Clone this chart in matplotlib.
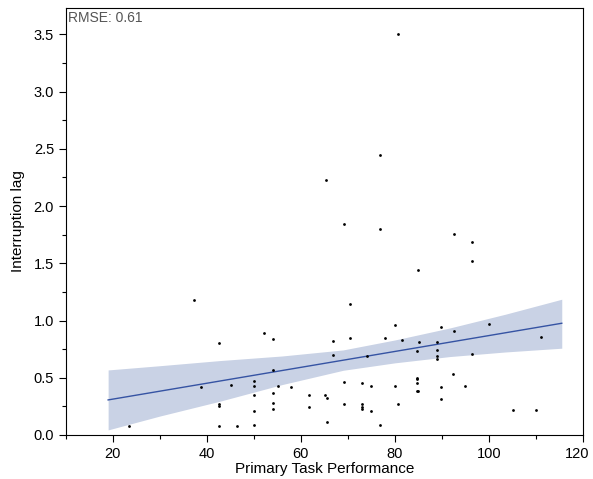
import numpy as np
import matplotlib
matplotlib.use('Agg')
import matplotlib.pyplot as plt
import matplotlib.transforms as mtransforms
from matplotlib.ticker import MultipleLocator, FormatStrFormatter

plt.rcParams['font.family'] = ['Liberation Sans', 'DejaVu Sans']

# Primary task performance (x) and interruption lag (y)
performance = [23.4, 37.2, 38.7, 42.6, 42.6, 42.6, 42.6, 45.1, 46.4,
               50.0, 50.0, 50.0, 50.0, 50.0,
               52.1, 54.0, 54.0, 54.0, 54.0, 54.0, 55.2, 57.9,
               61.7, 61.7, 65.1, 65.6, 65.6, 65.3, 66.9, 66.9, 69.1, 69.1, 69.1,
               70.4, 70.4, 73.0, 73.0, 73.0, 73.0, 74.1, 74.9, 74.9, 76.8, 76.8,
               76.8, 77.8, 80.0, 80.0, 80.7, 80.7, 81.5,
               84.6, 84.6, 84.6, 84.6, 84.6, 85.0, 85.0, 85.2, 88.9, 88.9, 88.9,
               88.9, 89.9, 89.9, 89.9,
               92.3, 92.6, 92.6, 95.0, 96.3, 96.3, 96.4, 100.0, 105.1, 110.0, 111.1]
lag = [0.08, 1.18, 0.42, 0.80, 0.27, 0.25, 0.08, 0.44, 0.08,
       0.475, 0.43, 0.35, 0.21, 0.085,
       0.89, 0.84, 0.57, 0.37, 0.28, 0.23, 0.43, 0.42,
       0.35, 0.24, 0.35, 0.32, 0.11, 2.23, 0.82, 0.70, 1.84, 0.46, 0.27,
       1.14, 0.85, 0.45, 0.27, 0.245, 0.225, 0.69, 0.43, 0.21, 2.45, 1.80,
       0.085, 0.85, 0.96, 0.43, 3.50, 0.27, 0.83,
       0.73, 0.50, 0.49, 0.45, 0.385, 0.38, 1.44, 0.81, 0.81, 0.74, 0.69,
       0.66, 0.94, 0.42, 0.31,
       0.53, 1.76, 0.91, 0.43, 1.69, 1.52, 0.71, 0.97, 0.215, 0.215, 0.86]

# fitted line and its confidence band
fit_x = [19.0, 115.5]
fit_y = [0.306, 0.976]
band_x = [19.0, 30.0, 42.8, 56.0, 69.0, 80.0, 91.7, 103.5, 115.5]
band_lo = [0.044, 0.165, 0.295, 0.44, 0.565, 0.63, 0.685, 0.725, 0.758]
band_hi = [0.568, 0.605, 0.650, 0.69, 0.743, 0.83, 0.935, 1.055, 1.186]

xticks = [20, 40, 60, 80, 100, 120]
rmse = 0.61

fig = plt.figure(figsize=(5.93, 4.79), dpi=100)
ax = fig.add_axes([0.111, 0.092, 0.872, 0.891])

ax.fill_between(band_x, band_lo, band_hi, color='#c9d2e5', linewidth=0, zorder=1)
ax.plot(fit_x, fit_y, color='#3553a3', linewidth=1.0, zorder=2)
ax.scatter(performance, lag, s=4, color='black', linewidths=0, zorder=3)

ax.set_xlim(10, 120)
ax.set_ylim(0, 3.73)
ax.set_xticks(xticks, [str(t) for t in xticks])
ax.xaxis.set_minor_locator(MultipleLocator(10))
ax.yaxis.set_major_locator(MultipleLocator(0.5))
ax.yaxis.set_minor_locator(MultipleLocator(0.25))
ax.yaxis.set_major_formatter(FormatStrFormatter('%.1f'))
ax.tick_params(which='major', direction='out', length=5, width=0.8, labelsize=10.5)
ax.tick_params(which='minor', direction='out', length=3, width=0.8)
for sp in ax.spines.values():
    sp.set_linewidth(0.8)

ax.set_xlabel('Primary Task Performance', fontsize=11, labelpad=1)
ax.set_ylabel('Interruption lag', fontsize=11, labelpad=6)

# keep the "120" label inside the figure
last = ax.xaxis.get_major_ticks()[-1].label1
last.set_horizontalalignment('right')
last.set_transform(last.get_transform() +
                   mtransforms.ScaledTranslation(6 / 100, 0, fig.dpi_scale_trans))

ax.text(0.004, 0.993, 'RMSE: {:.2f}'.format(rmse), transform=ax.transAxes,
        ha='left', va='top', fontsize=10, color='#555555')

fig.savefig('out.png', dpi=100)
